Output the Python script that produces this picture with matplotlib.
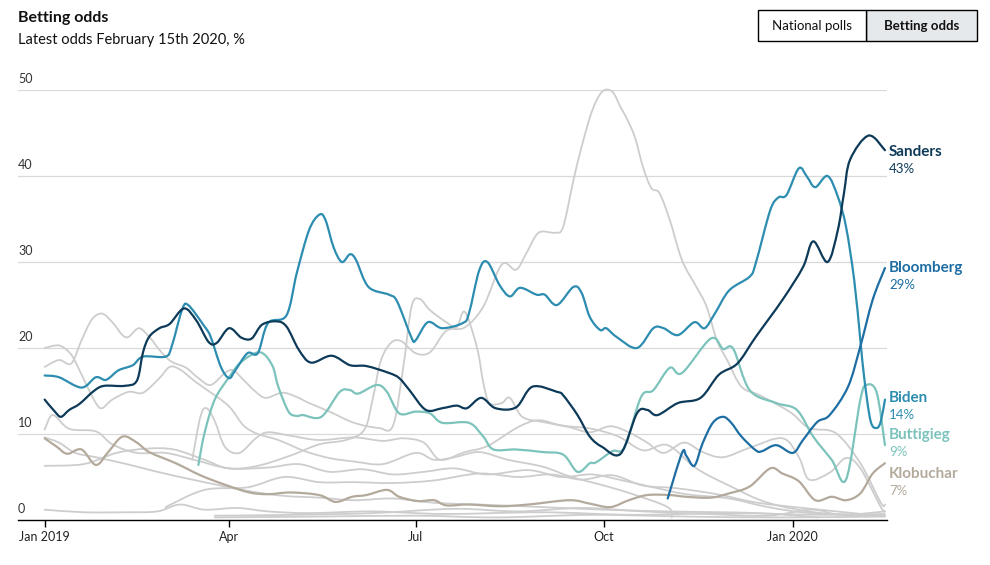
import numpy as np
import matplotlib
matplotlib.use("Agg")
import matplotlib.pyplot as plt
import matplotlib.dates as mdates
from matplotlib.patches import Rectangle, PathPatch
from matplotlib.path import Path

plt.rcParams['font.family'] = ['Lato', 'DejaVu Sans']

# betting odds, % (date, value)
sanders = [("2019-01-01",14.0),("2019-01-06",12.6),("2019-01-09",12.0),("2019-01-13",12.8),("2019-01-18",13.5),
           ("2019-01-25",15.0),("2019-01-30",15.6),("2019-02-09",15.6),("2019-02-15",16.2),("2019-02-18",19.5),
           ("2019-02-21",21.3),("2019-02-26",22.3),("2019-03-03",22.8),("2019-03-10",24.6),("2019-03-16",23.2),
           ("2019-03-22",20.7),("2019-03-26",20.6),("2019-04-01",22.3),("2019-04-07",21.2),("2019-04-12",21.1),
           ("2019-04-17",22.7),("2019-04-24",23.1),("2019-04-29",22.5),("2019-05-05",19.8),("2019-05-11",18.3),
           ("2019-05-21",19.1),("2019-05-30",18.0),("2019-06-07",17.9),("2019-06-18",17.1),("2019-06-23",16.5),
           ("2019-06-28",15.1),("2019-07-06",12.8),("2019-07-14",13.0),("2019-07-21",13.3),("2019-07-26",13.0),
           ("2019-08-02",14.2),("2019-08-09",13.0),("2019-08-19",13.1),("2019-08-27",15.5),("2019-09-08",14.9),
           ("2019-09-11",14.5),("2019-09-18",12.2),("2019-09-24",9.7),("2019-09-30",8.5),("2019-10-09",7.7),
           ("2019-10-17",12.4),("2019-10-22",12.8),("2019-10-27",12.2),("2019-11-06",13.6),("2019-11-17",14.2),
           ("2019-11-26",16.9),("2019-12-05",18.2),("2019-12-14",21.3),("2019-12-27",25.6),("2020-01-06",29.4),
           ("2020-01-11",32.4),("2020-01-18",30.0),("2020-01-23",33.7),("2020-01-26",38.0),("2020-01-29",41.9),
           ("2020-02-07",44.7),("2020-02-15",43.0)]

biden = [("2019-01-01",16.8),("2019-01-08",16.6),("2019-01-19",15.4),("2019-01-26",16.6),("2019-01-31",16.3),
         ("2019-02-06",17.4),("2019-02-13",18.0),("2019-02-18",19.0),("2019-03-01",19.0),("2019-03-04",20.2),
         ("2019-03-09",24.4),("2019-03-12",25.0),("2019-03-20",22.5),("2019-03-23",21.3),("2019-03-28",17.8),
         ("2019-04-01",16.5),("2019-04-04",17.4),("2019-04-10",19.4),("2019-04-15",19.4),("2019-04-20",22.9),
         ("2019-04-29",23.8),("2019-05-04",28.7),("2019-05-10",33.7),("2019-05-15",35.5),("2019-05-18",34.9),
         ("2019-05-22",31.7),("2019-05-26",30.0),("2019-05-30",30.9),("2019-06-02",30.2),("2019-06-08",27.1),
         ("2019-06-18",26.2),("2019-06-22",25.4),("2019-06-29",21.2),("2019-07-01",20.9),("2019-07-07",23.0),
         ("2019-07-14",22.3),("2019-07-24",22.9),("2019-07-27",24.0),("2019-08-01",29.0),("2019-08-05",30.0),
         ("2019-08-11",27.3),("2019-08-16",26.0),("2019-08-21",27.0),("2019-08-29",26.2),("2019-09-02",26.2),
         ("2019-09-08",25.0),("2019-09-16",27.1),("2019-09-20",26.4),("2019-09-24",23.6),("2019-09-29",22.1),
         ("2019-10-02",22.3),("2019-10-07",21.3),("2019-10-17",20.0),("2019-10-25",22.3),("2019-10-30",22.3),
         ("2019-11-06",21.5),("2019-11-14",23.0),("2019-11-19",22.3),("2019-11-24",24.0),("2019-12-01",26.7),
         ("2019-12-11",28.3),("2019-12-14",29.9),("2019-12-21",36.0),("2019-12-25",37.5),("2019-12-29",37.8),
         ("2020-01-04",40.9),("2020-01-08",39.9),("2020-01-12",38.7),("2020-01-18",40.0),("2020-01-23",37.6),
         ("2020-01-27",34.1),("2020-01-31",27.9),("2020-02-03",20.9),("2020-02-05",16.3),("2020-02-08",11.5),
         ("2020-02-11",10.7),("2020-02-13",11.5),("2020-02-15",14.0)]

bloomberg = [("2019-11-01",2.5),("2019-11-08",7.8),("2019-11-10",7.5),("2019-11-14",6.3),("2019-11-18",8.9),
             ("2019-11-23",11.3),("2019-11-28",12.0),("2019-12-02",11.3),("2019-12-07",9.7),("2019-12-14",8.1),
             ("2019-12-17",8.0),("2019-12-24",8.7),("2020-01-01",7.8),("2020-01-06",9.3),("2020-01-13",11.4),
             ("2020-01-19",12.2),("2020-01-28",15.5),("2020-02-03",20.2),("2020-02-09",25.6),("2020-02-15",29.3)]

buttigieg = [("2019-03-17",6.4),("2019-03-20",10.1),("2019-03-25",14.0),("2019-04-01",16.6),("2019-04-07",18.4),
             ("2019-04-16",19.5),("2019-04-22",18.0),("2019-04-25",15.5),("2019-04-30",12.6),("2019-05-04",12.1),
             ("2019-05-07",12.2),("2019-05-16",12.0),("2019-05-25",14.9),("2019-05-30",15.1),("2019-06-03",14.7),
             ("2019-06-12",15.7),("2019-06-17",14.9),("2019-06-23",12.4),("2019-07-01",12.6),("2019-07-08",12.4),
             ("2019-07-14",11.3),("2019-07-27",11.3),("2019-08-03",9.7),("2019-08-08",8.2),("2019-08-19",8.2),
             ("2019-09-01",7.9),("2019-09-11",7.6),("2019-09-18",5.6),("2019-09-24",6.6),("2019-09-27",6.7),
             ("2019-10-05",8.0),("2019-10-11",8.5),("2019-10-19",14.3),("2019-10-25",15.1),("2019-11-02",17.7),
             ("2019-11-08",17.1),("2019-11-22",21.1),("2019-11-28",19.9),("2019-12-03",19.9),("2019-12-11",15.1),
             ("2019-12-24",13.6),("2020-01-03",12.8),("2020-01-11",9.7),("2020-01-20",7.0),("2020-01-27",4.7),
             ("2020-02-03",14.0),("2020-02-06",15.7),("2020-02-11",14.8),("2020-02-15",8.7)]

klobuchar = [("2019-01-01",9.5),("2019-01-07",8.5),("2019-01-12",7.7),("2019-01-19",8.2),("2019-01-26",6.4),
             ("2019-02-01",7.9),("2019-02-08",9.7),("2019-02-15",9.0),("2019-02-21",7.9),("2019-03-06",6.6),
             ("2019-03-18",5.2),("2019-03-30",4.1),("2019-04-11",3.2),("2019-04-20",3.0),("2019-05-01",3.2),
             ("2019-05-15",2.9),("2019-05-23",2.1),("2019-05-31",2.7),("2019-06-07",2.9),("2019-06-17",3.5),
             ("2019-06-23",2.7),("2019-07-02",2.2),("2019-07-10",2.3),("2019-07-16",1.7),("2019-07-27",1.8),
             ("2019-08-11",1.6),("2019-08-25",1.8),("2019-09-14",2.3),("2019-09-24",1.9),("2019-10-04",1.5),
             ("2019-10-13",2.3),("2019-10-22",2.9),("2019-11-02",2.9),("2019-11-10",2.7),("2019-11-22",2.6),
             ("2019-12-01",3.1),("2019-12-11",3.9),("2019-12-21",6.0),("2019-12-27",5.4),("2020-01-04",4.5),
             ("2020-01-12",2.3),("2020-01-20",2.7),("2020-01-27",2.3),("2020-02-03",3.1),("2020-02-09",5.4),
             ("2020-02-15",6.6)]

# the other candidates, drawn in grey
harris = [("2019-01-01",17.8),("2019-01-08",18.6),("2019-01-14",18.2),("2019-01-19",20.9),("2019-01-24",23.3),
          ("2019-01-29",24.0),("2019-02-03",23.0),("2019-02-08",21.5),("2019-02-11",21.3),("2019-02-16",22.3),
          ("2019-02-21",21.3),("2019-02-27",19.5),("2019-03-04",18.4),("2019-03-11",17.7),("2019-03-17",16.5),
          ("2019-03-23",15.7),("2019-03-30",17.1),("2019-04-03",17.4),("2019-04-08",16.3),("2019-04-14",14.9),
          ("2019-04-19",14.2),("2019-04-27",14.8),("2019-05-04",14.3),("2019-05-10",13.6),("2019-05-20",12.6),
          ("2019-06-01",11.3),("2019-06-13",10.7),("2019-06-20",11.0),("2019-06-25",17.8),("2019-06-29",24.8),
          ("2019-07-03",25.7),("2019-07-08",24.4),("2019-07-16",23.0),("2019-07-21",22.4),("2019-07-25",24.2),
          ("2019-07-31",20.0),("2019-08-03",16.0),("2019-08-06",13.6),("2019-08-12",13.6),("2019-08-16",14.2),
          ("2019-08-22",12.0),("2019-09-01",11.4),("2019-09-14",10.8),("2019-09-24",10.2),("2019-10-04",10.9),
          ("2019-10-13",10.2),("2019-10-22",9.0),("2019-10-30",7.8),("2019-11-09",9.0),("2019-11-18",7.9),
          ("2019-11-28",7.3),("2019-12-11",8.4),("2019-12-27",9.5),("2020-01-04",7.3),("2020-01-09",4.7),
          ("2020-01-19",5.5),("2020-01-27",7.2),("2020-02-03",6.0),("2020-02-13",1.5),("2020-02-15",1.0)]

warren = [("2019-01-01",10.5),("2019-01-05",12.2),("2019-01-13",10.6),("2019-01-26",10.3),("2019-02-03",8.8),
          ("2019-02-15",7.8),("2019-03-01",7.8),("2019-03-15",7.0),("2019-04-01",6.0),("2019-04-15",6.3),
          ("2019-05-01",7.5),("2019-05-15",8.8),("2019-05-28",9.3),("2019-06-06",10.5),("2019-06-10",14.0),
          ("2019-06-14",18.5),("2019-06-19",20.6),("2019-06-24",20.8),("2019-07-01",19.4),("2019-07-08",19.5),
          ("2019-07-16",22.0),("2019-07-25",22.4),("2019-08-03",24.8),("2019-08-12",29.7),("2019-08-19",29.1),
          ("2019-08-24",31.0),("2019-08-30",33.4),("2019-09-07",33.4),("2019-09-11",34.1),("2019-09-16",39.5),
          ("2019-09-20",43.4),("2019-09-25",47.5),("2019-09-30",49.8),("2019-10-05",49.8),("2019-10-09",48.0),
          ("2019-10-12",46.7),("2019-10-16",44.5),("2019-10-20",41.0),("2019-10-24",38.6),("2019-10-28",38.0),
          ("2019-11-02",34.9),("2019-11-08",30.2),("2019-11-15",27.1),("2019-11-20",24.8),("2019-11-25",20.9),
          ("2019-11-30",18.6),("2019-12-07",15.5),("2019-12-16",14.5),("2019-12-31",12.5),("2020-01-09",10.7),
          ("2020-01-22",10.1),("2020-02-03",6.6),("2020-02-13",2.0),("2020-02-15",1.8)]

orourke = [("2019-01-01",20.0),("2019-01-08",20.3),("2019-01-13",19.5),("2019-01-16",18.4),("2019-01-21",15.9),
           ("2019-01-26",13.6),("2019-01-29",13.0),("2019-02-03",14.0),("2019-02-11",14.9),("2019-02-18",14.8),
           ("2019-02-26",16.5),("2019-03-03",17.8),("2019-03-08",17.5),("2019-03-16",16.0),("2019-03-22",15.0),
           ("2019-04-01",13.2),("2019-04-08",11.0),("2019-04-15",10.0),("2019-04-25",9.3),("2019-05-08",8.0),
           ("2019-05-20",7.2),("2019-06-01",6.8),("2019-06-15",6.5),("2019-07-01",7.8),("2019-07-10",7.0),
           ("2019-07-20",7.3),("2019-08-01",7.9),("2019-08-15",7.0),("2019-09-01",6.2),("2019-09-15",5.0),
           ("2019-10-01",4.0),("2019-10-15",3.0),("2019-11-01",1.5),("2019-11-03",0.3)]

other_a = [("2019-03-14",7.0),("2019-03-18",12.0),("2019-03-21",13.0),("2019-03-25",11.5),("2019-03-30",8.5),
           ("2019-04-06",7.8),("2019-04-14",9.5),("2019-04-20",10.2),("2019-05-01",9.8),("2019-05-15",9.3),
           ("2019-06-01",9.6),("2019-06-15",9.2),("2019-06-25",9.5),("2019-07-05",9.0),("2019-07-13",7.0),
           ("2019-07-25",7.9),("2019-08-05",8.6),("2019-08-20",10.8),("2019-08-30",11.6),("2019-09-10",11.0),
           ("2019-09-25",10.6),("2019-10-08",9.7),("2019-10-20",8.1),("2019-11-01",8.7),("2019-11-15",6.0),
           ("2019-12-01",4.0),("2019-12-20",2.0),("2020-01-15",0.8),("2020-02-15",0.5)]

low_a = [("2019-01-01",6.3),("2019-01-20",6.5),("2019-02-05",7.8),("2019-02-20",8.3),("2019-03-05",8.2),
         ("2019-03-20",7.0),("2019-04-01",6.0),("2019-04-20",6.1),("2019-05-05",6.5),("2019-05-20",5.6),
         ("2019-06-05",5.9),("2019-06-20",5.3),("2019-07-05",5.6),("2019-07-20",6.0),("2019-08-05",5.3),
         ("2019-08-25",5.8),("2019-09-10",5.0),("2019-09-25",5.3),("2019-10-10",4.6),("2019-10-25",3.8),
         ("2019-11-10",3.0),("2019-12-01",2.5),("2019-12-20",1.5),("2020-01-10",0.8),("2020-02-15",0.5)]

low_b = [("2019-01-01",9.6),("2019-01-08",9.0),("2019-01-16",7.8),("2019-01-26",7.3),("2019-02-10",6.5),
         ("2019-02-25",5.6),("2019-03-12",4.8),("2019-03-28",4.0),("2019-04-12",3.3),("2019-04-28",2.8),
         ("2019-05-15",2.6),("2019-06-01",2.3),("2019-06-20",2.5),("2019-07-10",2.0),("2019-08-01",1.8),
         ("2019-09-01",1.5),("2019-10-01",1.2),("2019-11-01",1.0),("2019-12-15",0.8),("2020-01-13",0.3)]

yang = [("2019-03-01",1.5),("2019-03-20",3.5),("2019-04-10",3.8),("2019-04-28",5.0),("2019-05-15",4.4),
        ("2019-06-01",4.4),("2019-06-20",4.3),("2019-07-10",4.6),("2019-08-01",5.4),("2019-08-20",5.0),
        ("2019-09-05",5.3),("2019-09-20",4.7),("2019-10-05",5.2),("2019-10-20",4.0),("2019-11-05",3.7),
        ("2019-11-25",3.0),("2019-12-15",2.0),("2020-01-10",1.3),("2020-02-12",0.5)]

low_c = [("2019-01-01",1.2),("2019-01-20",0.9),("2019-02-10",0.9),("2019-02-25",1.0),("2019-03-08",1.8),
         ("2019-03-20",1.2),("2019-04-05",1.4),("2019-04-20",1.0),("2019-05-10",0.8),("2019-06-10",1.0),
         ("2019-07-15",0.7),("2019-09-01",0.9),("2019-10-15",0.6),("2019-12-01",0.8),("2020-01-15",0.6),
         ("2020-02-15",0.7)]

low_d = [("2019-03-25",0.5),("2019-05-01",0.6),("2019-06-10",0.8),("2019-07-20",1.3),("2019-08-20",1.0),
         ("2019-09-20",1.4),("2019-10-20",1.0),("2019-11-20",0.7),("2019-12-20",0.5),("2020-01-10",1.2),
         ("2020-01-25",0.6),("2020-02-15",1.0)]

low_e = [("2019-03-25",0.3),("2019-05-15",0.4),("2019-07-01",0.5),("2019-08-10",0.3),("2019-09-25",0.6),
         ("2019-11-10",0.4),("2019-12-25",0.3),("2020-02-15",0.4)]

greys = [harris, warren, orourke, other_a, low_a, low_b, yang, low_c, low_d, low_e]

highlighted = [
    ("Klobuchar", klobuchar, "#b3aa9c", "7%"),
    ("Buttigieg", buttigieg, "#7cc3bc", "9%"),
    ("Biden", biden, "#2d8db0", "14%"),
    ("Bloomberg", bloomberg, "#1e6ea4", "29%"),
    ("Sanders", sanders, "#0d3a58", "43%"),
]
label_y = {"Sanders": 152, "Bloomberg": 268, "Biden": 398, "Buttigieg": 435, "Klobuchar": 474}

yticks = [0, 10, 20, 30, 40, 50]
xticks = ["2019-01-01", "2019-04-01", "2019-07-01", "2019-10-01", "2020-01-01"]
xticklabels = ["Jan 2019", "Apr", "Jul", "Oct", "Jan 2020"]


def split(series):
    d = mdates.datestr2num([s[0] for s in series])
    v = np.array([s[1] for s in series])
    return d, v


def smooth_line(ax, series, color, lw, z):
    # draw a smooth curve through the read points (Catmull-Rom as cubic Bezier)
    x, y = split(series)
    p = np.column_stack([x, y])
    verts = [p[0]]
    codes = [Path.MOVETO]
    n = len(p)
    for i in range(n - 1):
        p0 = p[max(i - 1, 0)]
        p1 = p[i]
        p2 = p[i + 1]
        p3 = p[min(i + 2, n - 1)]
        c1 = p1 + (p2 - p0) / 6.0
        c2 = p2 - (p3 - p1) / 6.0
        verts += [c1, c2, p2]
        codes += [Path.CURVE4] * 3
    patch = PathPatch(Path(verts, codes), fill=False, edgecolor=color, lw=lw,
                      capstyle="round", joinstyle="round", clip_on=False, zorder=z)
    ax.add_patch(patch)


W, H = 990, 565
fig = plt.figure(figsize=(W / 100, H / 100), dpi=100)
fig.patch.set_facecolor("white")


def fx(x):
    return x / W


def fy(y):
    return 1 - y / H


ax = fig.add_axes([fx(18), fy(520), fx(887) - fx(18), fy(90) - fy(520)])
ax.set_ylim(0, 50)
ax.set_xlim(mdates.datestr2num("2018-12-19"), mdates.datestr2num("2020-02-16"))

for t in yticks[1:]:
    ax.axhline(t, color="#d9d9d9", lw=0.9, zorder=0)
for t in yticks:
    ax.text(0, t + 0.6, str(t), transform=ax.get_yaxis_transform(),
            ha="left", va="bottom", fontsize=9, color="#333333")

for g in greys:
    smooth_line(ax, g, "#cdcdcd", 1.3, 1)

for name, s, c, pct in highlighted:
    smooth_line(ax, s, c, 1.6, 2)
    fig.text(fx(889), fy(label_y[name]), name, color=c, fontsize=11, fontweight="bold",
             ha="left", va="center")
    fig.text(fx(889), fy(label_y[name] + 17), pct, color=c, fontsize=9.5,
             ha="left", va="center")

ax.set_yticks([])
ax.set_xticks(mdates.datestr2num(xticks))
ax.set_xticklabels(xticklabels)
ax.tick_params(axis="x", direction="out", length=5, width=1, color="black",
               labelsize=9, pad=3, labelcolor="#222222")
for side in ["top", "right", "left"]:
    ax.spines[side].set_visible(False)
ax.spines["bottom"].set_color("black")
ax.spines["bottom"].set_linewidth(1)
ax.set_facecolor("none")

fig.text(fx(18), fy(18), "Betting odds", fontsize=11.5, fontweight="bold", color="#111111",
         ha="left", va="center")
fig.text(fx(18), fy(40), "Latest odds February 15th 2020, %", fontsize=10.5, color="#111111",
         ha="left", va="center")

# toggle buttons top right
fig.patches.append(Rectangle((fx(866), fy(41)), fx(977) - fx(866), fy(10) - fy(41),
                             transform=fig.transFigure, facecolor="#e6e9ec", edgecolor="black", lw=1))
fig.patches.append(Rectangle((fx(758), fy(41)), fx(866) - fx(758), fy(10) - fy(41),
                             transform=fig.transFigure, facecolor="white", edgecolor="black", lw=1))
fig.text(fx(812), fy(25.5), "National polls", fontsize=9.5, color="#111111", ha="center", va="center")
fig.text(fx(921.5), fy(25.5), "Betting odds", fontsize=9.5, fontweight="bold", color="#111111",
         ha="center", va="center")

fig.savefig("out.png", dpi=100, facecolor="white")
